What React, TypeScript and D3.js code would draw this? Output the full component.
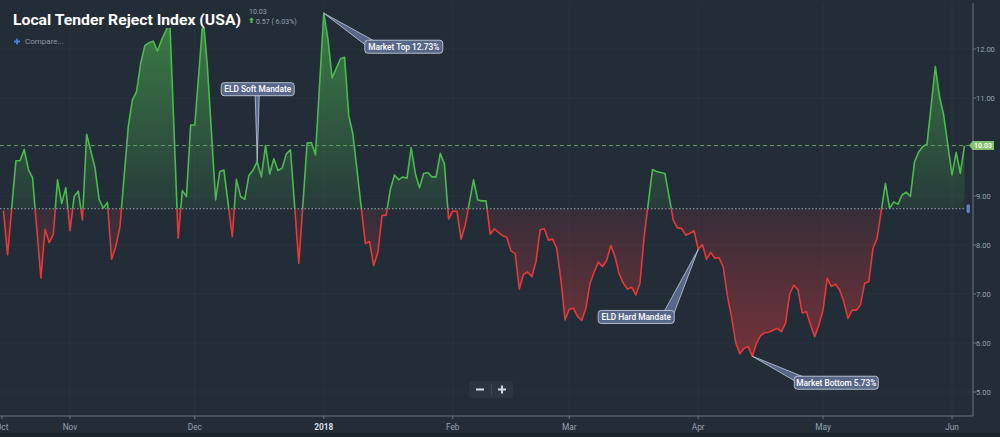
import * as d3 from "d3";

// ---- data ----
const DATES = [
  "2017-10-16", "2017-10-17", "2017-10-19", "2017-10-20", "2017-10-21", "2017-10-22", "2017-10-23",
  "2017-10-25", "2017-10-26", "2017-10-27", "2017-10-28", "2017-10-29", "2017-10-30", "2017-10-31",
  "2017-11-01", "2017-11-02", "2017-11-03", "2017-11-04", "2017-11-05", "2017-11-07", "2017-11-08",
  "2017-11-09", "2017-11-10", "2017-11-11", "2017-11-12", "2017-11-13", "2017-11-15", "2017-11-16",
  "2017-11-17", "2017-11-18", "2017-11-19", "2017-11-20", "2017-11-21", "2017-11-22", "2017-11-23",
  "2017-11-25", "2017-11-27", "2017-11-28", "2017-11-29", "2017-11-30", "2017-12-01", "2017-12-03",
  "2017-12-04", "2017-12-06", "2017-12-07", "2017-12-08", "2017-12-10", "2017-12-11", "2017-12-12",
  "2017-12-13", "2017-12-14", "2017-12-15", "2017-12-16", "2017-12-17", "2017-12-18", "2017-12-19",
  "2017-12-20", "2017-12-21", "2017-12-22", "2017-12-23", "2017-12-24", "2017-12-26", "2017-12-28",
  "2017-12-29", "2017-12-30", "2018-01-01", "2018-01-02", "2018-01-03", "2018-01-05", "2018-01-06",
  "2018-01-07", "2018-01-08", "2018-01-11", "2018-01-12", "2018-01-13", "2018-01-14", "2018-01-15",
  "2018-01-16", "2018-01-17", "2018-01-18", "2018-01-19", "2018-01-20", "2018-01-21", "2018-01-22",
  "2018-01-23", "2018-01-24", "2018-01-25", "2018-01-26", "2018-01-27", "2018-01-28", "2018-01-29",
  "2018-01-30", "2018-01-31", "2018-02-01", "2018-02-02", "2018-02-03", "2018-02-04", "2018-02-06",
  "2018-02-07", "2018-02-08", "2018-02-09", "2018-02-10", "2018-02-11", "2018-02-12", "2018-02-13",
  "2018-02-14", "2018-02-15", "2018-02-16", "2018-02-17", "2018-02-18", "2018-02-19", "2018-02-20",
  "2018-02-21", "2018-02-22", "2018-02-23", "2018-02-24", "2018-02-25", "2018-02-26", "2018-02-27",
  "2018-02-28", "2018-03-01", "2018-03-02", "2018-03-03", "2018-03-04", "2018-03-05", "2018-03-06",
  "2018-03-07", "2018-03-08", "2018-03-09", "2018-03-10", "2018-03-11", "2018-03-12", "2018-03-13",
  "2018-03-14", "2018-03-15", "2018-03-16", "2018-03-17", "2018-03-18", "2018-03-19", "2018-03-21",
  "2018-03-22", "2018-03-23", "2018-03-24", "2018-03-26", "2018-03-27", "2018-03-28", "2018-03-29",
  "2018-03-30", "2018-03-31", "2018-04-01", "2018-04-02", "2018-04-03", "2018-04-04", "2018-04-05",
  "2018-04-06", "2018-04-07", "2018-04-08", "2018-04-09", "2018-04-10", "2018-04-11", "2018-04-12",
  "2018-04-13", "2018-04-14", "2018-04-15", "2018-04-16", "2018-04-17", "2018-04-18", "2018-04-19",
  "2018-04-20", "2018-04-21", "2018-04-22", "2018-04-23", "2018-04-24", "2018-04-25", "2018-04-26",
  "2018-04-27", "2018-04-28", "2018-04-29", "2018-04-30", "2018-05-01", "2018-05-02", "2018-05-03",
  "2018-05-04", "2018-05-05", "2018-05-06", "2018-05-07", "2018-05-08", "2018-05-09", "2018-05-10",
  "2018-05-11", "2018-05-12", "2018-05-13", "2018-05-14", "2018-05-16", "2018-05-17", "2018-05-18",
  "2018-05-19", "2018-05-20", "2018-05-21", "2018-05-22", "2018-05-23", "2018-05-24", "2018-05-25",
  "2018-05-26", "2018-05-28", "2018-05-29", "2018-05-30", "2018-06-01", "2018-06-02", "2018-06-03",
  "2018-06-04",
];

const VALUES = [
  8.7, 7.8, 9.72, 9.72, 9.95, 9.54, 9.37,
  7.33, 8.32, 8.05, 8.22, 9.33, 8.85, 9.17,
  8.29, 8.99, 9.1, 8.51, 10.26, 9.58, 8.93,
  8.75, 8.87, 7.71, 7.97, 8.37, 10.41, 10.96,
  11.13, 11.71, 12.07, 12.13, 12.16, 11.96, 12.18,
  12.55, 8.14, 9.11, 8.99, 10.45, 10.45, 12.65,
  11.67, 8.92, 9.5, 9.53, 8.17, 9.34, 8.99,
  8.93, 9.42, 9.53, 9.7, 9.39, 10.03, 9.45,
  9.76, 9.52, 9.57, 9.86, 9.94, 7.63, 10.08,
  10.09, 9.84, 12.73, 12.2, 11.41, 11.8, 11.83,
  10.64, 10.26, 8.03, 8.07, 7.58, 7.85, 8.6,
  8.61, 9.14, 9.43, 9.33, 9.39, 9.36, 9.99,
  9.46, 9.17, 9.46, 9.48, 9.39, 9.39, 9.87,
  9.65, 8.53, 8.69, 8.69, 8.12, 8.41, 9.33,
  8.92, 8.9, 8.9, 8.22, 8.33, 8.26, 8.19,
  8.16, 7.88, 7.83, 7.1, 7.4, 7.45, 7.35,
  7.66, 8.31, 8.33, 8.1, 8.12, 7.93, 7.29,
  6.47, 6.69, 6.71, 6.54, 6.46, 6.71, 7.22,
  7.45, 7.65, 7.56, 7.69, 7.99, 7.76, 7.41,
  7.22, 7.1, 7.14, 6.98, 7.22, 8.17, 9.54,
  9.5, 9.48, 9.46, 8.51, 8.35, 8.34, 8.2,
  8.24, 8.29, 7.91, 8.01, 7.71, 7.85, 7.73,
  7.74, 7.56, 6.97, 6.54, 6.01, 5.78, 5.89,
  5.93, 5.73, 5.99, 6.15, 6.21, 6.22, 6.26,
  6.3, 6.23, 6.41, 7.01, 7.18, 7.08, 6.61,
  6.64, 6.37, 6.13, 6.37, 6.67, 7.32, 7.15,
  7.2, 7.08, 6.84, 6.5, 6.67, 6.67, 6.78,
  7.22, 7.25, 7.93, 8.14, 9.26, 8.75, 8.88,
  8.83, 9.02, 9.08, 8.99, 9.7, 9.9, 10.01,
  10.06, 11.64, 11.03, 10.65, 9.43, 9.89, 9.46,
  10.03,
];

const THRESHOLD = 8.74;
const LAST_VALUE = 10.03;
const CHANGE_TEXT = "0.57 ( 6.03%)";

const Y_TICKS = [5, 6, 7, 8, 9, 10, 11, 12];
const X_TICK_DATES = ["2017-10-01", "2017-11-01", "2017-12-01", "2018-01-01", "2018-02-01", "2018-03-01", "2018-04-01", "2018-05-01", "2018-06-01"];
const X_TICK_LABELS = ["Oct", "Nov", "Dec", "2018", "Feb", "Mar", "Apr", "May", "Jun"];

const NOTE_DATES = ["2017-12-16", "2018-01-01", "2018-04-01", "2018-04-14"];
const NOTE_TEXTS = ["ELD Soft Mandate", "Market Top 12.73%", "ELD Hard Mandate", "Market Bottom 5.73%"];
// label box placement relative to the anchored point
const NOTE_LAYOUT = [
  { dx: -36, dy: -79, w: 73, side: "bottom" },
  { dx: 41, dy: 27, w: 78, side: "tl" },
  { dx: -100, dy: 61, w: 76, side: "tr" },
  { dx: 42, dy: 20, w: 84, side: "tl" },
];

const W = 1000;
const H = 437;
const PLOT = { left: 0, right: 973, top: 3, bottom: 416 };
const BG = "#232d38";
const GREEN = "#4cba4f";
const RED = "#e5393a";
const FONT = "Roboto, 'Noto Sans', sans-serif";

type Pt = { date: Date; value: number };

export default function App() {
  const parse = d3.utcParse("%Y-%m-%d");
  const data: Pt[] = DATES.map((d, i) => ({ date: parse(d) as Date, value: VALUES[i] }));

  const x = d3
    .scaleUtc()
    .domain([parse("2017-11-01") as Date, parse("2018-06-01") as Date])
    .range([70, 952]);
  const y = d3.scaleLinear().domain([5, 12]).range([392, 49]);

  const yT = y(THRESHOLD);
  const yLast = y(LAST_VALUE);

  const line = d3
    .line<Pt>()
    .x((d) => x(d.date))
    .y((d) => y(d.value));
  const area = d3
    .area<Pt>()
    .x((d) => x(d.date))
    .y0(yT)
    .y1((d) => y(d.value));

  const linePath = line(data) ?? "";
  const areaPath = area(data) ?? "";
  const lastX = x(data[data.length - 1].date);

  const xTicks = X_TICK_DATES.map((d, i) => ({
    x: Math.max(2, x(parse(d) as Date)),
    label: X_TICK_LABELS[i],
  }));

  // the last-value tag sits on top of the axis label it covers
  const yLabels = Y_TICKS.filter((v) => Math.abs(y(v) - yLast) > 6);

  const notes = NOTE_DATES.map((d, i) => {
    const pt = data.find((p) => +p.date === +(parse(d) as Date))!;
    const ax = x(pt.date);
    const ay = y(pt.value);
    const lay = NOTE_LAYOUT[i];
    const bx = ax + lay.dx;
    const by = ay + lay.dy;
    const bh = 13;
    let base: [number, number][];
    if (lay.side === "bottom") base = [[ax - 2, by + bh], [ax + 2, by + bh]];
    else if (lay.side === "tl") base = [[bx + 1, by + 5], [bx + 10, by + 1]];
    else base = [[bx + lay.w - 10, by + 1], [bx + lay.w - 1, by + 5]];
    return { ax, ay, bx, by, bw: lay.w, bh, base, text: NOTE_TEXTS[i] };
  });

  return (
    <svg
      width={W}
      height={H}
      style={{ position: "absolute", left: 0, top: 0, display: "block", background: BG }}
      fontFamily={FONT}
    >
      <defs>
        <clipPath id="plot">
          <rect x={PLOT.left} y={PLOT.top} width={PLOT.right - PLOT.left} height={PLOT.bottom - PLOT.top} />
        </clipPath>
        <clipPath id="above">
          <rect x={PLOT.left} y={0} width={PLOT.right - PLOT.left} height={yT} />
        </clipPath>
        <clipPath id="below">
          <rect x={PLOT.left} y={yT} width={PLOT.right - PLOT.left} height={PLOT.bottom - yT} />
        </clipPath>
        <linearGradient id="gFill" gradientUnits="userSpaceOnUse" x1="0" y1={y(12.5)} x2="0" y2={yT}>
          <stop offset="0" stopColor={GREEN} stopOpacity={0.55} />
          <stop offset="1" stopColor={GREEN} stopOpacity={0.1} />
        </linearGradient>
        <linearGradient id="rFill" gradientUnits="userSpaceOnUse" x1="0" y1={yT} x2="0" y2={y(5.7)}>
          <stop offset="0" stopColor={RED} stopOpacity={0.1} />
          <stop offset="1" stopColor={RED} stopOpacity={0.42} />
        </linearGradient>
      </defs>

      <rect x={0} y={0} width={W} height={H} fill={BG} />
      <rect x={0} y={433} width={W} height={H - 433} fill="#1b232b" />

      {/* grid */}
      <g stroke="#29343f" strokeWidth={1}>
        {xTicks.slice(1).map((t) => (
          <line key={t.label} x1={t.x} x2={t.x} y1={PLOT.top} y2={PLOT.bottom} />
        ))}
        {Y_TICKS.map((v) => (
          <line key={v} x1={PLOT.left} x2={PLOT.right} y1={y(v)} y2={y(v)} />
        ))}
      </g>

      {/* series */}
      <g clipPath="url(#plot)">
        <g clipPath="url(#above)">
          <path d={areaPath} fill="url(#gFill)" />
          <path d={linePath} fill="none" stroke={GREEN} strokeWidth={1.6} strokeLinejoin="round" />
        </g>
        <g clipPath="url(#below)">
          <path d={areaPath} fill="url(#rFill)" />
          <path d={linePath} fill="none" stroke={RED} strokeWidth={1.6} strokeLinejoin="round" />
        </g>
      </g>

      {/* threshold and last value lines */}
      <line x1={PLOT.left} x2={lastX} y1={yT} y2={yT} stroke="#9aa3ad" strokeWidth={1} strokeDasharray="1.5,2" />
      <line x1={PLOT.left} x2={PLOT.right - 4} y1={yLast} y2={yLast} stroke="#5f9a5c" strokeWidth={1} strokeDasharray="4,3" />
      <rect x={967} y={yT - 4} width={2.5} height={8} rx={1} fill="#5a7bc4" stroke="#7f9ce0" strokeWidth={0.6} />

      {/* title area */}
      <rect x={8} y={0} width={296} height={28} fill={BG} />
      <text x={13} y={24.5} fontSize={15.5} fontWeight={700} fill="#ffffff" textLength={228} lengthAdjust="spacingAndGlyphs">
        Local Tender Reject Index (USA)
      </text>
      <text x={249} y={14} fontSize={7} fill="#98a1ab">
        {LAST_VALUE.toFixed(2)}
      </text>
      <path d="M251.5,17.5 L254,20 L252.6,20 L252.6,23 L250.4,23 L250.4,20 L249,20 Z" fill={GREEN} />
      <text x={256} y={23.5} fontSize={7} fill="#98a1ab">
        {CHANGE_TEXT}
      </text>
      <path d="M14,41.5 h6 M17,38.5 v6" stroke="#4d7fd0" strokeWidth={1.8} />
      <text x={25} y={44} fontSize={8} fill="#8e97a1">
        Compare...
      </text>

      {/* annotations */}
      {notes.map((n) => (
        <g key={n.text}>
          <path
            d={`M${n.ax},${n.ay} L${n.base[0][0]},${n.base[0][1]} L${n.base[1][0]},${n.base[1][1]} Z`}
            fill="#56678a"
            stroke="#c3cbd9"
            strokeWidth={0.8}
            strokeLinejoin="round"
          />
          <rect x={n.bx} y={n.by} width={n.bw} height={n.bh} rx={3} fill="#56678a" stroke="#c3cbd9" strokeWidth={0.9} />
          <text x={n.bx + n.bw / 2} y={n.by + 9.3} fontSize={8.3} fill="#ffffff" textAnchor="middle" fontWeight={500}>
            {n.text}
          </text>
        </g>
      ))}

      {/* zoom buttons */}
      <rect x={469} y={381} width={44} height={17} rx={3} fill="#2b3541" />
      <line x1={491.5} x2={491.5} y1={384} y2={395} stroke="#3c4856" />
      <path d="M476,389.5 h8" stroke="#d5dae0" strokeWidth={2} />
      <path d="M498,389.5 h8 M502,385.5 v8" stroke="#d5dae0" strokeWidth={2} />

      {/* axes */}
      <line x1={PLOT.left} x2={PLOT.right} y1={PLOT.bottom} y2={PLOT.bottom} stroke="#6c7580" strokeWidth={1} />
      <line x1={PLOT.right} x2={PLOT.right} y1={PLOT.top} y2={PLOT.bottom} stroke="#6c7580" strokeWidth={1} />
      {xTicks.map((t) => (
        <g key={t.label}>
          <line x1={t.x} x2={t.x} y1={PLOT.bottom} y2={PLOT.bottom + 3} stroke="#6c7580" />
          <text
            x={t.x}
            y={430}
            fontSize={8.3}
            textAnchor="middle"
            fill={t.label === "2018" ? "#d9dde2" : "#98a1ab"}
            fontWeight={t.label === "2018" ? 700 : 400}
          >
            {t.label}
          </text>
        </g>
      ))}
      {Y_TICKS.map((v) => (
        <line key={v} x1={PLOT.right} x2={PLOT.right + 3} y1={y(v)} y2={y(v)} stroke="#6c7580" />
      ))}
      {yLabels.map((v) => (
        <text key={v} x={976} y={y(v) + 2.8} fontSize={7.5} fill="#98a1ab">
          {v.toFixed(2)}
        </text>
      ))}

      {/* last value tag */}
      <path d={`M969,${yLast} L972.5,${yLast - 4.5} H994 V${yLast + 4.5} H972.5 Z`} fill="#86c06c" />
      <text x={983} y={yLast + 2.6} fontSize={7} fill="#ffffff" textAnchor="middle" fontWeight={500}>
        {LAST_VALUE.toFixed(2)}
      </text>
    </svg>
  );
}
